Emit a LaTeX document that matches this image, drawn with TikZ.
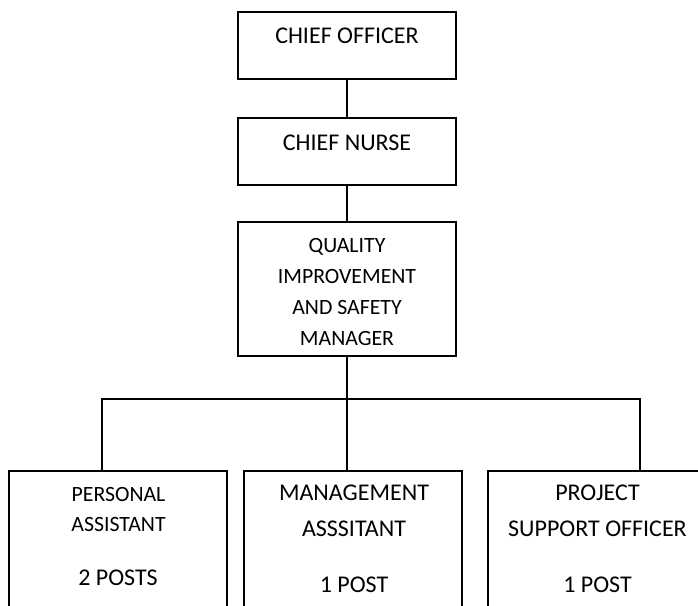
\documentclass[tikz,border=0pt]{standalone}
\usepackage{fontspec}
\setmainfont{Carlito}
\begin{document}
\begin{tikzpicture}[x=1pt,y=-1pt,
  postbox/.style={draw, line width=2pt, minimum width=218pt, inner sep=0pt},
  conn/.style={line width=2pt},
  bigtext/.style={align=center, inner sep=0pt, font=\fontsize{24}{36}\selectfont},
  smalltext/.style={align=center, inner sep=0pt}]
\useasboundingbox (0,0) rectangle (698,605);
\clip (0,0) rectangle (698,605);

% management chain
\node[postbox, minimum height=67pt] (chief) at (347,45.5) {};
\node[bigtext] (chieft) at (347,36) {CHIEF OFFICER};
\node[postbox, minimum height=67pt] (nurse) at (347,151.5) {};
\node[bigtext] (nurset) at (347,143) {CHIEF NURSE};
\node[postbox, minimum height=134pt] (qism) at (347,289) {};
\node[smalltext, font=\fontsize{21.8}{31}\selectfont] (qismt) at (347,291.5)
  {QUALITY\\IMPROVEMENT\\AND SAFETY\\MANAGER};

% reporting posts (boxes run past the lower edge)
\node[postbox, minimum height=170pt, anchor=north] (pa) at (118,470) {};
\node[smalltext, font=\fontsize{21.8}{30}\selectfont] (pat) at (118.5,509) {PERSONAL\\ASSISTANT};
\node[bigtext] (pan) at (118,578) {2 POSTS};

\node[postbox, minimum height=170pt, anchor=north] (ma) at (353,470) {};
\node[bigtext] (mat) at (354,511) {MANAGEMENT\\ASSSITANT};
\node[bigtext] (man) at (354,585) {1 POST};

\node[postbox, minimum height=170pt, anchor=north, minimum width=219pt] (pso) at (597.5,470) {};
\node[bigtext] (psot) at (597.5,511) {PROJECT\\SUPPORT OFFICER};
\node[bigtext] (pson) at (597.5,585) {1 POST};

% connectors
\coordinate (bus) at (347,398.5);
\draw[conn] (chief.south) -- (nurse.north);
\draw[conn] (nurse.south) -- (qism.north);
\draw[conn] (qism.south) -- (qism.south |- ma.north);
\draw[conn] ([xshift=-16pt]pa.north) |- (bus) -| ([xshift=42.5pt]pso.north);
\end{tikzpicture}
\end{document}
